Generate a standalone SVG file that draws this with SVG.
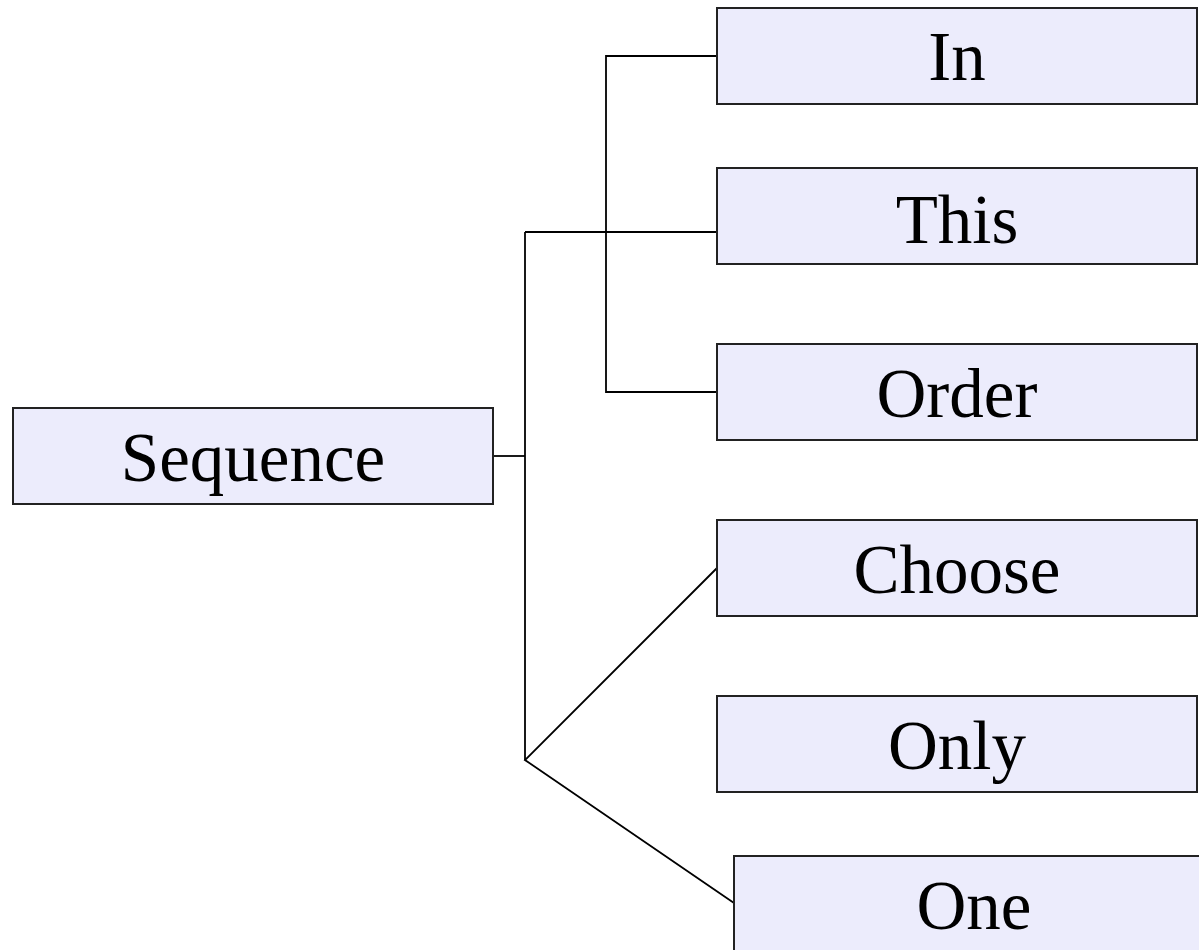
<svg xmlns="http://www.w3.org/2000/svg" width="1199" height="950" viewBox="0 0 1199 950">
  <style>
    .box { fill: #ececfc; stroke: #222; stroke-width: 2; }
    .label { font-family: "Liberation Serif", "Times New Roman", serif; font-size: 69px; fill: #000; text-anchor: middle; }
    .link { fill: none; stroke: #000; stroke-width: 1.8; }
  </style>
  <rect width="1199" height="950" fill="#fff"/>

  <g id="connectors">
    <!-- Sequence to trunk -->
    <polyline class="link" points="493,456 525,456"/>
    <!-- main trunk -->
    <polyline class="link" points="525,232 525,760"/>
    <polyline class="link" points="525,232 717,232"/>
    <!-- In / Order bracket -->
    <polyline class="link" points="717,56 606,56 606,392 717,392"/>
    <!-- diagonals -->
    <polyline class="link" points="717,568 525,760 734,903"/>
  </g>

  <g id="node-sequence">
    <rect class="box" x="13" y="408" width="480" height="96"/>
    <text class="label" x="253" y="481">Sequence</text>
  </g>
  <g id="node-in">
    <rect class="box" x="717" y="8" width="480" height="96"/>
    <text class="label" x="957" y="80">In</text>
  </g>
  <g id="node-this">
    <rect class="box" x="717" y="168" width="480" height="96"/>
    <text class="label" x="957" y="243">This</text>
  </g>
  <g id="node-order">
    <rect class="box" x="717" y="344" width="480" height="96"/>
    <text class="label" x="957" y="417">Order</text>
  </g>
  <g id="node-choose">
    <rect class="box" x="717" y="520" width="480" height="96"/>
    <text class="label" x="957" y="593">Choose</text>
  </g>
  <g id="node-only">
    <rect class="box" x="717" y="696" width="480" height="96"/>
    <text class="label" x="957" y="769">Only</text>
  </g>
  <g id="node-one">
    <rect class="box" x="734" y="856" width="480" height="96"/>
    <text class="label" x="974" y="929">One</text>
  </g>
</svg>
